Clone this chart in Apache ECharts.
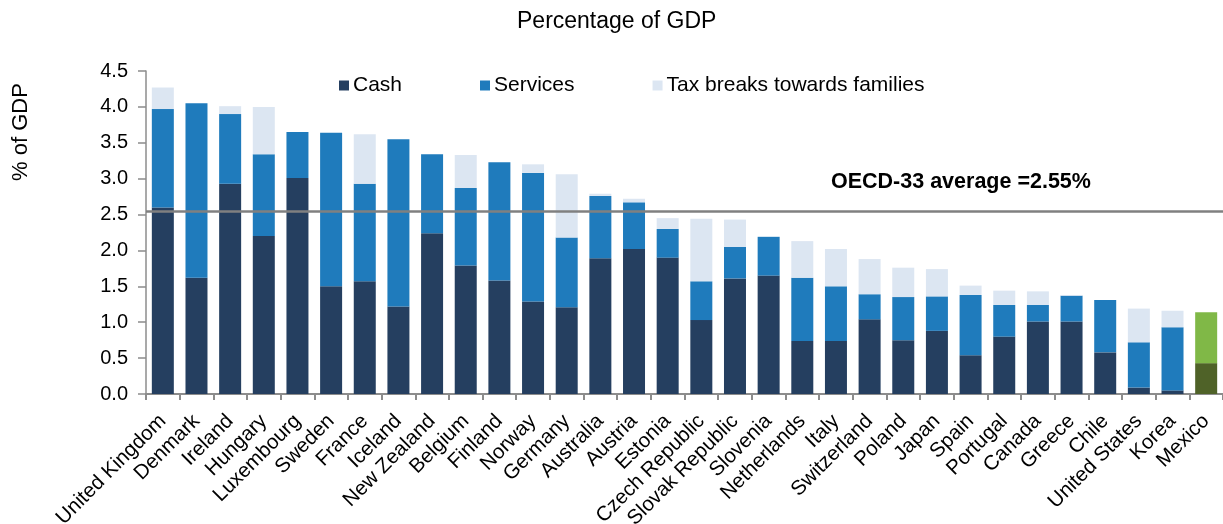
<!DOCTYPE html>
<html>
<head>
<meta charset="utf-8">
<script src="https://cdn.jsdelivr.net/npm/echarts@6/dist/echarts.min.js"></script>
<style>
html,body{margin:0;padding:0;background:#fff;}
#chart{width:1223px;height:524px;}
</style>
</head>
<body>
<div id="chart"></div>
<script>
const countries = ["United Kingdom","Denmark","Ireland","Hungary","Luxembourg","Sweden","France","Iceland","New Zealand","Belgium","Finland","Norway","Germany","Australia","Austria","Estonia","Czech Republic","Slovak Republic","Slovenia","Netherlands","Italy","Switzerland","Poland","Japan","Spain","Portugal","Canada","Greece","Chile","United States","Korea","Mexico"];
const cash = [2.60,1.62,2.93,2.20,3.01,1.50,1.57,1.22,2.24,1.79,1.58,1.29,1.21,1.89,2.02,1.90,1.03,1.61,1.65,0.74,0.74,1.04,0.75,0.88,0.54,0.80,1.01,1.01,0.58,0.09,0.05,0.43];
const services = [1.37,2.43,0.97,1.14,0.64,2.14,1.36,2.33,1.10,1.08,1.65,1.79,0.97,0.87,0.65,0.40,0.54,0.44,0.54,0.88,0.76,0.35,0.60,0.48,0.84,0.44,0.23,0.36,0.73,0.63,0.88,0.71];
const taxBreaks = [0.30,0.00,0.11,0.66,0.00,0.00,0.69,0.00,0.00,0.46,0.00,0.12,0.88,0.03,0.05,0.15,0.87,0.38,0.00,0.51,0.52,0.49,0.41,0.38,0.13,0.20,0.19,0.01,0.00,0.47,0.23,0.00];
const yTicks = [0,0.5,1,1.5,2,2.5,3,3.5,4,4.5];
const oecdAverage = 2.55;
const highlightCountry = "Mexico";

const C_CASH = '#253f60', C_SERV = '#1f7bbc', C_TAX = '#dce6f2';
const C_HCASH = '#4f6228', C_HSERV = '#80b847';

function mark(arr, hiColor) {
  return arr.map((v, i) => countries[i] === highlightCountry
    ? { value: v, itemStyle: { color: hiColor } } : v);
}

const chart = echarts.init(document.getElementById('chart'), null, {renderer: 'canvas'});
const FONT = 'Liberation Sans, Arial, sans-serif';
const option = {
  animation: false,
  textStyle: { fontFamily: FONT, color: '#000' },
  title: {
    text: 'Percentage of GDP',
    left: 517, top: 10, padding: 0,
    textStyle: { fontFamily: FONT, fontSize: 23, fontWeight: 'normal', color: '#000' }
  },
  legend: {
    data: ['Cash', 'Services', 'Tax breaks towards families'],
    left: 339, top: 75, padding: 0,
    itemWidth: 10, itemHeight: 10, itemGap: 78,
    icon: 'rect',
    textStyle: { fontFamily: FONT, fontSize: 21, color: '#000', padding: [0,0,0,-1] }
  },
  grid: { left: 146, right: 0, top: 71, bottom: 130, containLabel: false, outerBoundsMode: 'none' },
  xAxis: {
    type: 'category',
    data: countries,
    axisLine: { lineStyle: { color: '#8c8c8c', width: 2 } },
    axisTick: { show: true, length: 6, lineStyle: { color: '#8c8c8c', width: 2 } },
    axisLabel: { rotate: 45, interval: 0, fontSize: 20.5, color: '#000', fontFamily: FONT, margin: 24 }
  },
  yAxis: {
    type: 'value',
    min: yTicks[0], max: yTicks[yTicks.length - 1], interval: 0.5,
    splitLine: { show: false },
    axisLine: { show: true, lineStyle: { color: '#8c8c8c', width: 1.5 } },
    axisTick: { show: true, length: 8, lineStyle: { color: '#8c8c8c', width: 1.5 } },
    axisLabel: { fontSize: 20, color: '#000', fontFamily: FONT, margin: 18,
      formatter: v => v.toFixed(1) }
  },
  series: [
    { name: 'Cash', type: 'bar', stack: 'total', barWidth: 22, itemStyle: { color: C_CASH },
      data: mark(cash, C_HCASH) },
    { name: 'Services', type: 'bar', stack: 'total', barWidth: 22, itemStyle: { color: C_SERV },
      data: mark(services, C_HSERV) },
    { name: 'Tax breaks towards families', type: 'bar', stack: 'total', barWidth: 22, itemStyle: { color: C_TAX },
      data: taxBreaks,
      markLine: {
        silent: true, symbol: ['none', 'none'],
        lineStyle: { color: '#808080', width: 2.5, type: 'solid' },
        label: { show: false },
        data: [{ yAxis: oecdAverage }]
      }
    }
  ]
};
chart.setOption(option);
const yAvg = chart.convertToPixel({ yAxisIndex: 0 }, oecdAverage);
chart.setOption({
  graphic: [
    { type: 'text', left: 831, top: yAvg - 40,
      style: { text: 'OECD-33 average =' + oecdAverage.toFixed(2) + '%', fontFamily: FONT, fontSize: 21.5, fontWeight: 'bold', fill: '#000' } },
    { type: 'text', x: 21, y: 132, rotation: Math.PI / 2,
      style: { text: '% of GDP', fontFamily: FONT, fontSize: 22, fill: '#000', align: 'center', verticalAlign: 'middle' } }
  ]
});
</script>
</body>
</html>
